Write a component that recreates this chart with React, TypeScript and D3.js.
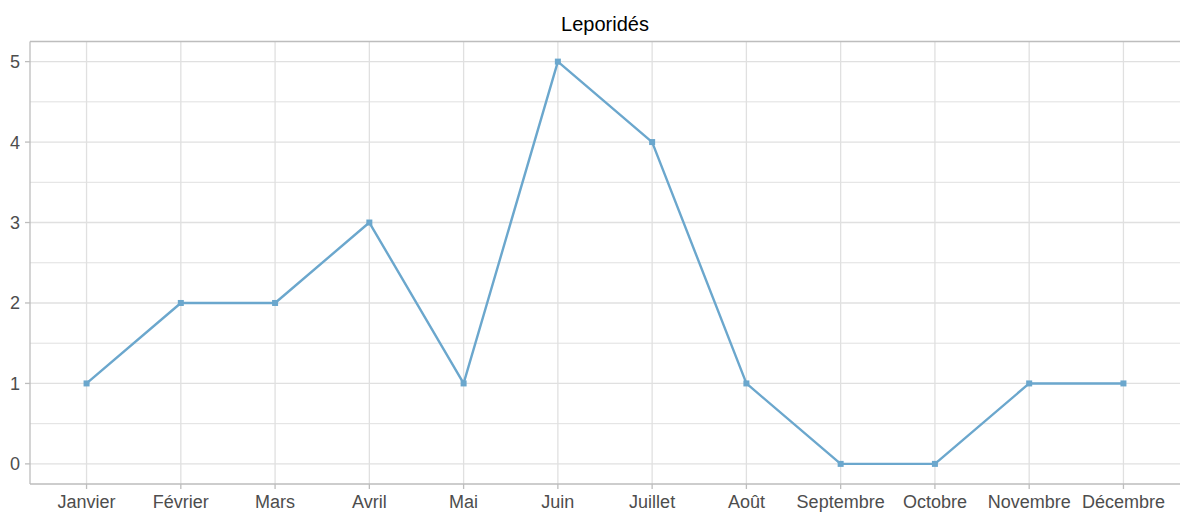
import React from "react";
import * as d3 from "d3";

const months = ["Janvier", "Février", "Mars", "Avril", "Mai", "Juin", "Juillet", "Août", "Septembre", "Octobre", "Novembre", "Décembre"];
const counts = [1, 2, 2, 3, 1, 5, 4, 1, 0, 0, 1, 1];
const yTicks = [0, 1, 2, 3, 4, 5];
const yMinor = [0.5, 1.5, 2.5, 3.5, 4.5];
const title = "Leporidés";

const W = 1180, H = 516;
const left = 30, right = 1180, top = 41.5, bottom = 484;

export default function App() {
  const n = months.length;
  const x = d3.scaleLinear().domain([-0.6, n - 1 + 0.6]).range([left, right]);
  const y = d3.scaleLinear().domain([-0.25, 5.25]).range([bottom, top]);
  const line = d3.line<number>().x((_, i) => x(i)).y((d) => y(d));
  const font = "'Liberation Sans', Arial, sans-serif";
  const gridCol = "#e0e0e0";
  const lineCol = "#6ba7cd";
  return (
    <div style={{ position: "absolute", left: 0, top: 0 }}>
      <svg width={W} height={H} style={{ display: "block", background: "#fff" }} fontFamily={font}>
        {yMinor.map((v) => (
          <line key={"m" + v} x1={left} x2={right} y1={y(v)} y2={y(v)} stroke={gridCol} strokeWidth={1} />
        ))}
        {yTicks.map((v) => (
          <line key={"g" + v} x1={left} x2={right} y1={y(v)} y2={y(v)} stroke={gridCol} strokeWidth={1.3} />
        ))}
        {months.map((m, i) => (
          <line key={"v" + m} x1={x(i)} x2={x(i)} y1={top} y2={bottom} stroke={gridCol} strokeWidth={1.3} />
        ))}
        <line x1={left} x2={right} y1={top} y2={top} stroke="#bdbdbd" strokeWidth={1.3} />
        <line x1={left} x2={left} y1={top} y2={bottom} stroke="#bdbdbd" strokeWidth={1.3} />
        <line x1={left} x2={right} y1={bottom} y2={bottom} stroke="#bdbdbd" strokeWidth={1.3} />
        {yTicks.map((v) => (
          <g key={"yt" + v}>
            <line x1={left - 5} x2={left} y1={y(v)} y2={y(v)} stroke="#bdbdbd" strokeWidth={1.3} />
            <text x={left - 10} y={y(v)} dy="0.36em" textAnchor="end" fontSize={18} fill="#4d4d4d">{v}</text>
          </g>
        ))}
        {months.map((m, i) => (
          <g key={"xt" + m}>
            <line x1={x(i)} x2={x(i)} y1={bottom} y2={bottom + 5} stroke="#bdbdbd" strokeWidth={1.3} />
            <text x={x(i)} y={bottom + 24} textAnchor="middle" fontSize={18} fill="#4d4d4d">{m}</text>
          </g>
        ))}
        <path d={line(counts) || ""} fill="none" stroke={lineCol} strokeWidth={2.4} strokeLinejoin="round" />
        {counts.map((c, i) => (
          <rect key={"p" + i} x={x(i) - 3} y={y(c) - 3} width={6} height={6} fill={lineCol} />
        ))}
        <text x={(left + right) / 2} y={31} textAnchor="middle" fontSize={20} fill="#000">{title}</text>
      </svg>
    </div>
  );
}
